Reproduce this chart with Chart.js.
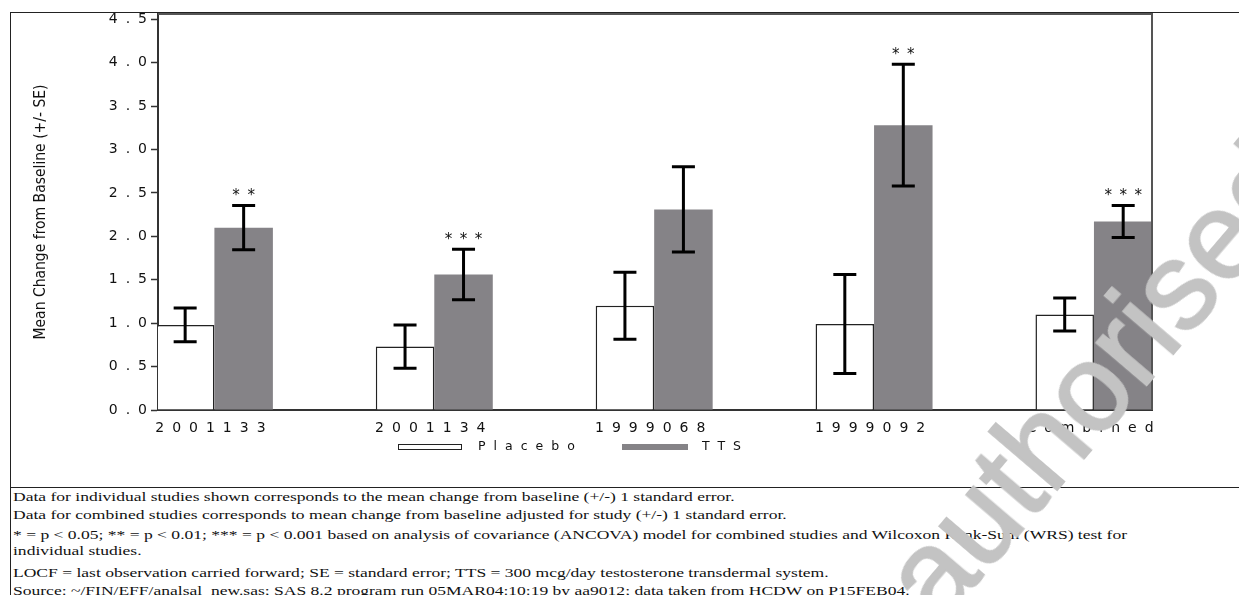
<!DOCTYPE html>
<html><head><meta charset="utf-8">
<script src="https://cdn.jsdelivr.net/npm/chart.js@4/dist/chart.umd.min.js"></script>
<style>
html,body{margin:0;padding:0;background:#fff;}
body{width:1239px;height:595px;position:relative;overflow:hidden;}
#frame{position:absolute;left:10px;top:12px;width:1240px;height:600px;border-left:1px solid #222;border-top:1px solid #222;}
#sep{position:absolute;left:10px;top:487px;width:1240px;height:0;border-top:1px solid #222;}
#c{position:absolute;left:0;top:0;}
.fn{position:absolute;left:13px;white-space:nowrap;font-family:'Liberation Serif','Times New Roman',serif;font-size:13px;line-height:16px;color:#111;transform-origin:0 50%;}
#wmwrap{position:absolute;left:954px;top:640px;width:0;height:0;z-index:5;}
#wm{position:absolute;left:0;bottom:0;font-family:'Liberation Sans',Arial,sans-serif;font-size:124px;line-height:1;color:#c3c3c3;-webkit-text-stroke:2px #c3c3c3;white-space:nowrap;transform:rotate(-49.5deg);transform-origin:0 100%;}
</style></head>
<body>
<div id="frame"></div>
<canvas id="c" width="1239" height="487"></canvas>
<div id="sep"></div>
<div id="notes"></div>
<div id="wmwrap"><div id="wm">authorised</div></div>
<script>
// ---- data ----
const categories = ['2001133', '2001134', '1999068', '1999092', 'Combined'];
const seriesNames = ['Placebo', 'TTS'];
const placeboMean = [0.98, 0.73, 1.20, 0.99, 1.10];
const placeboSE   = [0.195, 0.25, 0.385, 0.57, 0.19];
const ttsMean     = [2.10, 1.56, 2.31, 3.28, 2.17];
const ttsSE       = [0.255, 0.29, 0.49, 0.70, 0.185];
const ttsSignif   = ['**', '***', '', '**', '***'];
const yTickValues = [0, 0.5, 1.0, 1.5, 2.0, 2.5, 3.0, 3.5, 4.0, 4.5];
const yTitle = 'Mean Change from Baseline (+/- SE)';
const footnotes = [
  'Data for individual studies shown corresponds to the mean change from baseline (+/-) 1 standard error.',
  'Data for combined studies corresponds to mean change from baseline adjusted for study (+/-) 1 standard error.',
  '* = p < 0.05; ** = p < 0.01; *** = p < 0.001 based on analysis of covariance (ANCOVA) model for combined studies and Wilcoxon Rank-Sum (WRS) test for',
  'individual studies.',
  'LOCF = last observation carried forward; SE = standard error; TTS = 300 mcg/day testosterone transdermal system.',
  'Source: ~/FIN/EFF/analsal_new.sas; SAS 8.2 program run 05MAR04:10:19 by aa9012; data taken from HCDW on P15FEB04.'
];

// ---- styles ----
const SANS = "'DejaVu Sans', 'Liberation Sans', sans-serif";
const MONO = "'DejaVu Sans Mono', 'Liberation Mono', monospace";
const TICK_LS = '8px';
const GRAY = '#858387';
const seList = [placeboSE, ttsSE];

const decor = {
  id: 'decor',
  beforeDraw(chart) { chart.ctx.letterSpacing = '0px'; },
  afterDatasetsDraw(chart) {
    const ctx = chart.ctx, ys = chart.scales.y, a = chart.chartArea;
    ctx.save();
    // plot frame top/right
    ctx.strokeStyle = '#555'; ctx.lineWidth = 2;
    ctx.beginPath(); ctx.moveTo(a.left, a.top); ctx.lineTo(a.right, a.top); ctx.lineTo(a.right, a.bottom); ctx.stroke();
    // error bars + significance
    chart.data.datasets.forEach((ds, d) => {
      const meta = chart.getDatasetMeta(d);
      meta.data.forEach((el, i) => {
        const m = ds.data[i], se = seList[d][i];
        const yt = ys.getPixelForValue(m + se), yb = ys.getPixelForValue(m - se);
        ctx.strokeStyle = '#000'; ctx.lineWidth = 3; ctx.lineCap = 'butt';
        ctx.beginPath();
        ctx.moveTo(el.x, yt); ctx.lineTo(el.x, yb);
        ctx.moveTo(el.x - 11.5, yt); ctx.lineTo(el.x + 11.5, yt);
        ctx.moveTo(el.x - 11.5, yb); ctx.lineTo(el.x + 11.5, yb);
        ctx.stroke();
        if (d === 1 && ttsSignif[i]) {
          ctx.letterSpacing = '6px';
          ctx.font = '15px ' + MONO; ctx.fillStyle = '#111';
          ctx.textAlign = 'center'; ctx.textBaseline = 'alphabetic';
          ctx.fillText(ttsSignif[i], el.x + 3, yt - 5);
          ctx.letterSpacing = '0px';
        }
      });
    });
    // legend
    const ly = 447;
    ctx.letterSpacing = '8px';
    ctx.font = '12.5px ' + SANS; ctx.textAlign = 'left'; ctx.textBaseline = 'middle';
    ctx.fillStyle = '#fff'; ctx.strokeStyle = '#222'; ctx.lineWidth = 1;
    ctx.fillRect(398.5, 444.5, 63, 5); ctx.strokeRect(398.5, 444.5, 63, 5);
    ctx.fillStyle = '#111'; ctx.fillText(chart.data.datasets[0].label, 478, ly);
    ctx.fillStyle = GRAY; ctx.fillRect(622, 444, 66, 6);
    ctx.fillStyle = '#111'; ctx.fillText(chart.data.datasets[1].label, 702, ly);
    ctx.restore();
    ctx.letterSpacing = TICK_LS;
  },
  afterDraw(chart) { chart.ctx.letterSpacing = '0px'; }
};

new Chart(document.getElementById('c'), {
  type: 'bar',
  data: {
    labels: categories.map((c, i) => i),
    datasets: [
      { label: seriesNames[0], data: placeboMean, backgroundColor: '#ffffff', borderColor: '#222', borderWidth: 1.5, borderSkipped: 'start', categoryPercentage: 0.532, barPercentage: 1.0 },
      { label: seriesNames[1], data: ttsMean, backgroundColor: GRAY, borderWidth: 0, categoryPercentage: 0.532, barPercentage: 1.0 }
    ]
  },
  options: {
    responsive: false, animation: false, devicePixelRatio: 1,
    layout: { padding: { left: 20, top: 14, right: 87, bottom: 0 } },
    plugins: { legend: { display: false }, tooltip: { enabled: false }, title: { display: false } },
    scales: {
      x: {
        type: 'linear', min: -0.2565, max: 4.264, offset: false,
        afterBuildTicks: (s) => { s.ticks = categories.map((c, i) => ({ value: i })); },
        afterFit: (s) => { s.height = 77; },
        grid: { display: false },
        border: { display: true, color: '#333', width: 2 },
        ticks: { z: 1, autoSkip: false, maxRotation: 0, padding: 2, color: '#111', font: { family: SANS, size: 14 }, callback: (v) => categories[v] }
      },
      y: {
        type: 'linear', min: 0, max: 4.56,
        afterBuildTicks: (s) => { s.ticks = yTickValues.map(v => ({ value: v })); },
        afterFit: (s) => { s.width = 138; },
        grid: { display: true, drawOnChartArea: false, drawTicks: true, tickLength: 7, tickColor: '#333', tickWidth: 1.5 },
        border: { display: true, color: '#333', width: 2 },
        ticks: { z: 1, padding: -4, color: '#111', font: { family: SANS, size: 14 }, callback: (v) => Number(v).toFixed(1) },
        title: { display: true, text: yTitle, color: '#111', padding: { top: 12, bottom: 0 }, font: { family: "'Liberation Sans Narrow', 'DejaVu Sans Condensed', sans-serif", size: 15.5 } }
      }
    }
  },
  plugins: [decor]
});

// ---- footnotes ----
const notes = document.getElementById('notes');
const centers = [497, 515, 535, 551, 573, 591];
const els = footnotes.map((t, i) => {
  const d = document.createElement('div');
  d.className = 'fn'; d.textContent = t; d.style.top = (centers[i] - 8) + 'px';
  notes.appendChild(d); return d;
});
const w3 = els[2].getBoundingClientRect().width;
const sx = (1127 - 13) / w3;
els.forEach(d => { d.style.transform = 'scaleX(' + sx.toFixed(4) + ')'; });
</script>
</body></html>
